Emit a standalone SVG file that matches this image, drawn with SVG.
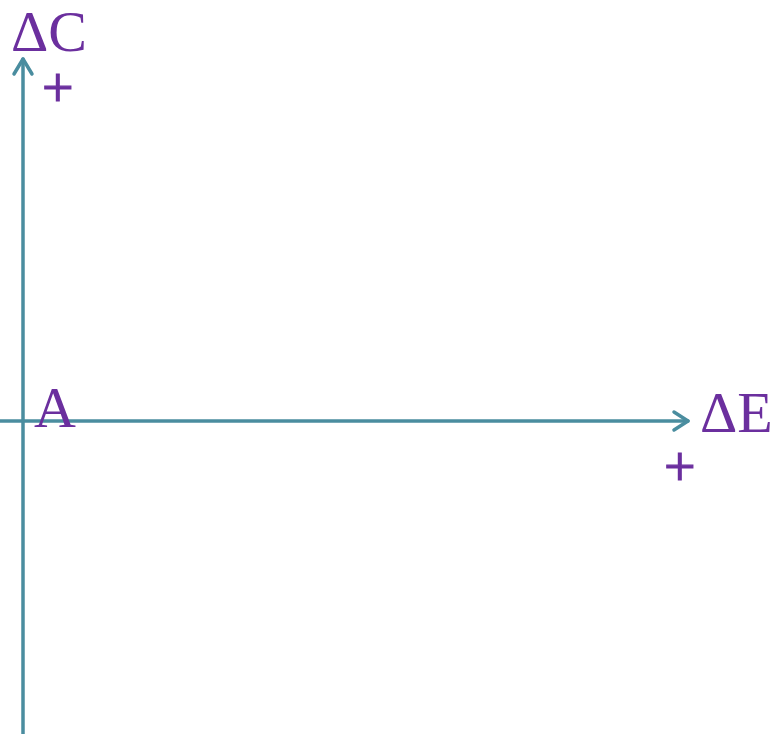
<svg xmlns="http://www.w3.org/2000/svg" width="774" height="734" viewBox="0 0 774 734">
<style>
.ax{stroke:#4a8d9f;stroke-width:3.5;fill:none;stroke-linecap:round;stroke-linejoin:round}
.lb{fill:#6b2f9e;font-family:"Liberation Serif","DejaVu Serif",serif;font-size:58px}
.pl{fill:#6b2f9e;stroke:#6b2f9e;stroke-width:1.2;font-family:"Liberation Serif","DejaVu Serif",serif;font-size:56px}
</style>
<rect width="774" height="734" fill="#ffffff"/>
<g id="connectors">
<path class="ax" d="M23,734 V59"/>
<path class="ax" d="M14,74 L23,59 L32,74"/>
<path class="ax" d="M0,421 H688"/>
<path class="ax" d="M674,412 L688,421 L674,430"/>
</g>
<g id="yLabel"><text class="lb" x="11" y="51" font-size="52">ΔC</text><text class="pl" x="42" y="107">+</text></g>
<g id="xLabel"><text class="lb" x="700" y="432">ΔE</text><text class="pl" x="664" y="486">+</text></g>
<g id="origin"><text class="lb" x="34" y="427">A</text></g>
</svg>
